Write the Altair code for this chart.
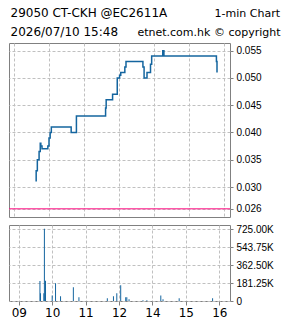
import altair as alt
import pandas as pd

# ---- header texts ----
HEADER_LEFT = ["29050 CT-CKH @EC2611A", "2026/07/10 15:48"]
HEADER_RIGHT = ["1-min Chart", "etnet.com.hk \u00a9 copyright"]

# ---- price series (1-min, step) ----
PRICE_TIMES = ["09:38", "09:38", "09:40", "09:43", "09:45", "09:46", "09:48",
               "09:58", "10:00", "10:02", "10:04", "10:38", "10:47", "11:37",
               "11:38", "11:49", "11:57", "13:01", "13:03", "13:10", "13:12",
               "13:41", "13:43", "13:48", "13:54", "13:56", "14:15", "14:17",
               "15:47", "15:48"]
PRICES = [0.031, 0.033, 0.035, 0.0365, 0.038, 0.0375, 0.037,
          0.0375, 0.039, 0.040, 0.041, 0.040, 0.043, 0.0445,
          0.046, 0.047, 0.050, 0.0505, 0.051, 0.052, 0.053,
          0.052, 0.050, 0.051, 0.0525, 0.054, 0.055, 0.054,
          0.053, 0.051]
REF_PRICE = [0.026]

# ---- volume series ----
VOL_TIMES = ["09:38", "09:39", "09:45", "09:46", "09:48", "10:00", "10:06",
             "10:15", "10:38", "10:48", "11:39", "11:50", "11:56", "13:03",
             "13:12", "13:14", "13:18", "13:43", "13:50", "14:15", "14:19",
             "14:48", "15:48"]
VOLUMES = [201000, 77000, 77000, 730000, 205000, 55000, 178000,
           47000, 138000, 37000, 27000, 48000, 77000, 158000,
           37000, 37000, 17000, 7000, 7000, 56000, 18000,
           27000, 27000]

# ---- axis ticks ----
HOUR_TICKS = [0, 1, 2, 3, 4, 5, 6]
HOUR_LABELS = ["09", "10", "11", "12", "14", "15", "16"]
PRICE_TICKS = [0.026, 0.030, 0.035, 0.040, 0.045, 0.050, 0.055]
VOL_TICKS = [0, 181250, 362500, 543750, 725000]

BLUE = "#14659f"
PINK = "#ff0a80"
FRAME = "#808080"


def session_index(t):
    h, m = map(int, t.split(":"))
    v = h + m / 60.0
    return v - 9 if h < 13 else v - 10


price_df = pd.DataFrame({
    "i": list(range(len(PRICES))),
    "idx": [session_index(t) for t in PRICE_TIMES],
    "price": PRICES,
})
vol_df = pd.DataFrame({
    "idx": [session_index(t) for t in VOL_TIMES],
    "vol": VOLUMES,
})

X_DOMAIN = [-0.1429, 6.1714]
Y_DOMAIN = [0.0245, 0.0564]
W = 221

label_expr_x = "[" + ",".join("'%s'" % s for s in HOUR_LABELS) + "][datum.value]"


def price_y():
    return alt.Y("price:Q", scale=alt.Scale(domain=Y_DOMAIN, nice=False, zero=False),
                 axis=alt.Axis(orient="right", values=PRICE_TICKS, format=".3f",
                               title=None, tickSize=3, labelPadding=3, domain=False,
                               labelOverlap=False, labelFlush=False, grid=True))


price_x = alt.X("idx:Q", scale=alt.Scale(domain=X_DOMAIN, nice=False, zero=False),
                axis=alt.Axis(values=HOUR_TICKS, labels=False, ticks=False,
                              domain=False, grid=True, title=None))

line = alt.Chart(price_df).mark_line(
    interpolate="step-after", color=BLUE, strokeWidth=1.5
).encode(x=price_x, y=price_y(), order="i:Q")

ref = alt.Chart(pd.DataFrame({"price": REF_PRICE})).mark_rule(
    color=PINK, strokeWidth=1
).encode(y=price_y())


def header_text(txt, x, y, align, size):
    return alt.Chart(pd.DataFrame({"t": [txt]})).mark_text(
        align=align, baseline="alphabetic", font="DejaVu Sans",
        fontSize=size, color="black"
    ).encode(x=alt.value(x), y=alt.value(y), text="t:N")


texts = [
    header_text(HEADER_LEFT[0], 1.5, -26.5, "left", 12),
    header_text(HEADER_RIGHT[0], 271, -26.5, "right", 11),
    header_text(HEADER_LEFT[1], 1.5, -7.5, "left", 12),
    header_text(HEADER_RIGHT[1], 271.5, -7.5, "right", 11),
]

top_bound = alt.Chart(pd.DataFrame({"a": [0]})).mark_rule(
    opacity=0, strokeWidth=1
).encode(x=alt.value(0), y=alt.value(-42), y2=alt.value(-40))

top = alt.layer(line, ref, *texts, top_bound).properties(width=W, height=174)

vol = alt.Chart(vol_df).mark_bar(color=BLUE, size=1).encode(
    x=alt.X("idx:Q", scale=alt.Scale(domain=X_DOMAIN, nice=False, zero=False),
            axis=alt.Axis(values=HOUR_TICKS, labelExpr=label_expr_x, tickSize=4,
                          labelPadding=2, grid=True, title=None, domain=False,
                          labelFont="DejaVu Sans", labelFontSize=12,
                          labelOverlap=False, labelFlush=False)),
    y=alt.Y("vol:Q", scale=alt.Scale(domain=[0, 767400], nice=False),
            axis=alt.Axis(orient="right", values=VOL_TICKS,
                          labelExpr="datum.value == 0 ? '0' : format(datum.value / 1000, '.2f') + 'K'",
                          title=None, tickSize=3, labelPadding=3, domain=False,
                          labelOverlap=False, labelFlush=False)),
).properties(width=W, height=76)

chart = alt.vconcat(top, vol, spacing=5).properties(
    padding={"left": 8, "top": 0, "right": 0, "bottom": 0},
    background="white",
).configure_view(
    stroke=FRAME, strokeWidth=1
).configure_axis(
    labelFont="Liberation Sans", labelFontSize=10, labelColor="black",
    tickColor=FRAME, gridColor="#c0c0c0", gridDash=[3, 2], gridWidth=1,
)

chart.save("out.html", embed_options={"renderer": "svg", "actions": False})
